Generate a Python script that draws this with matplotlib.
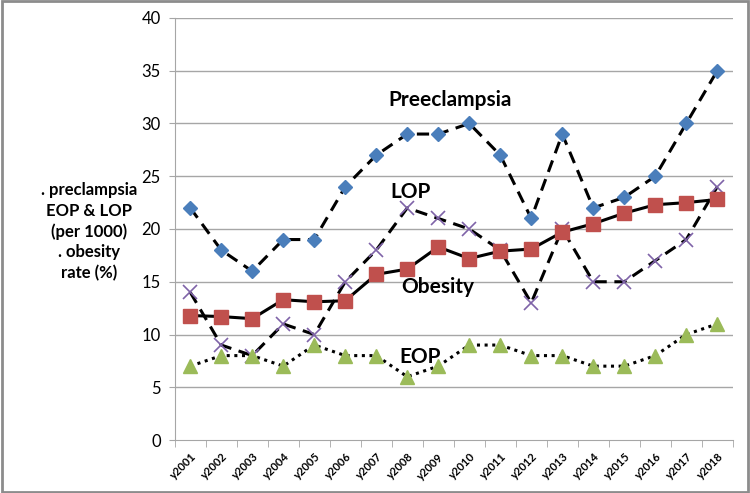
import matplotlib.pyplot as plt
from matplotlib.patches import Rectangle
import numpy as np

plt.rcParams['font.family'] = ['Lato', 'DejaVu Sans']

years = ['y2001', 'y2002', 'y2003', 'y2004', 'y2005', 'y2006', 'y2007', 'y2008', 'y2009',
         'y2010', 'y2011', 'y2012', 'y2013', 'y2014', 'y2015', 'y2016', 'y2017', 'y2018']
preeclampsia = [22, 18, 16, 19, 19, 24, 27, 29, 29, 30, 27, 21, 29, 22, 23, 25, 30, 35]
lop = [14, 9, 8, 11, 10, 15, 18, 22, 21, 20, 18, 13, 20, 15, 15, 17, 19, 24]
obesity = [11.8, 11.7, 11.5, 13.3, 13.1, 13.2, 15.7, 16.2, 18.3, 17.2, 17.9, 18.1, 19.7,
           20.5, 21.5, 22.3, 22.5, 22.8]
eop = [7, 8, 8, 7, 9, 8, 8, 6, 7, 9, 9, 8, 8, 7, 7, 8, 10, 11]

x = np.arange(len(years))

fig = plt.figure(figsize=(7.5, 4.93), dpi=100)
ax = fig.add_axes([0.233, 0.1075, 0.744, 0.856])

grid_col = '#a6a6a6'
for v in range(5, 45, 5):
    ax.axhline(v, color=grid_col, lw=1, zorder=0)

# series
ax.plot(x, preeclampsia, color='black', ls=(0, (4, 2.5)), lw=2.2, marker='D', ms=7,
        mfc='#4a7ebb', mec='#4a7ebb', zorder=3)
ax.plot(x, lop, color='black', ls=(0, (4, 2.5)), lw=2.2, marker='x', ms=10, mew=1.2,
        mec='#7f63a8', zorder=3)
ax.plot(x, obesity, color='black', ls='-', lw=2.2, marker='s', ms=10,
        mfc='#c0504d', mec='#c0504d', zorder=4)
ax.plot(x, eop, color='black', ls=(0, (1, 1.5)), lw=2.2, marker='^', ms=10,
        mfc='#9bbb59', mec='#9bbb59', zorder=3)

# in-plot labels
lab = dict(fontsize=15, fontweight='bold', color='black', ha='left', va='center')
ax.text(6.4, 32.2, 'Preeclampsia', **lab)
ax.text(6.45, 23.5, 'LOP', **lab)
ax.text(6.82, 14.5, 'Obesity', **lab)
ax.text(6.73, 7.9, 'EOP', **lab)

ax.set_xlim(-0.5, len(years) - 0.5)
ax.set_ylim(0, 40)
ax.set_yticks(range(0, 45, 5))
ax.tick_params(axis='y', labelsize=12, length=4, color=grid_col, pad=6)

ax.set_xticks(x)
ax.set_xticklabels(years, rotation=45, ha='right', rotation_mode='anchor',
                   fontsize=8, fontweight='bold')
ax.set_xticks(np.arange(-0.5, len(years)), minor=True)
ax.tick_params(axis='x', which='major', length=0, pad=8)
ax.tick_params(axis='x', which='minor', length=5, color=grid_col)

for s in ['top', 'right']:
    ax.spines[s].set_visible(False)
for s in ['left', 'bottom']:
    ax.spines[s].set_color(grid_col)

fig.text(0.119, 0.53, '. preclampsia\nEOP & LOP\n(per 1000)\n. obesity\nrate (%)',
         ha='center', va='center', fontsize=12, fontweight='bold', linespacing=1.35)

fig.patches.append(Rectangle((0.002, 0.003), 0.995, 0.994, transform=fig.transFigure,
                             fill=False, ec='#8c8c8c', lw=2))

fig.savefig('out.png', dpi=100)
